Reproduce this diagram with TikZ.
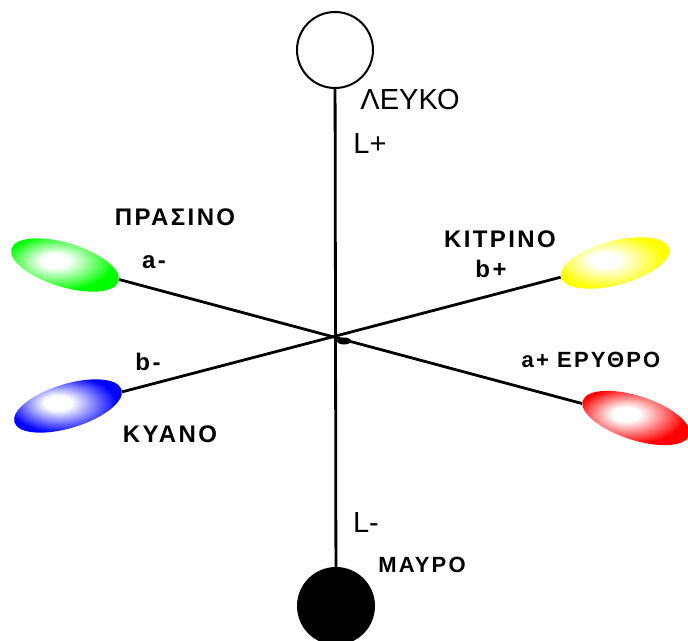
\documentclass[tikz,border=0pt]{standalone}
\usepackage{fontspec}
\setmainfont{Liberation Sans}
\newfontfamily\labelfont[LetterSpace=10]{Liberation Sans}
\usetikzlibrary{shapes.geometric}
\pgfdeclareradialshading{glowgreen}{\pgfpoint{-5bp}{3bp}}{color(0bp)=(white); color(6bp)=(white); color(24bp)=(green); color(50bp)=(green)}
\pgfdeclareradialshading{glowyellow}{\pgfpoint{-5bp}{3bp}}{color(0bp)=(white); color(6bp)=(white); color(24bp)=(yellow); color(50bp)=(yellow)}
\pgfdeclareradialshading{glowblue}{\pgfpoint{-5bp}{3bp}}{color(0bp)=(white); color(6bp)=(white); color(24bp)=(blue); color(50bp)=(blue)}
\pgfdeclareradialshading{glowred}{\pgfpoint{-5bp}{3bp}}{color(0bp)=(white); color(6bp)=(white); color(24bp)=(red); color(50bp)=(red)}
\def\bigtext{\fontsize{29}{32}\selectfont}
\def\boldtext{\labelfont\bfseries\fontsize{24}{26}\selectfont}
\def\smalltext{\labelfont\bfseries\fontsize{22}{24}\selectfont}

\begin{document}
\begin{tikzpicture}[x=1pt, y=1pt,
		axis/.style={line width=2.8pt},
		pole/.style={circle, draw, line width=2pt, minimum size=76pt, inner sep=0pt},
		blob/.style={ellipse, shade, minimum width=112pt, minimum height=44pt, inner sep=0pt}]
			%%%%% START %%%%%
			\useasboundingbox (0, 0) rectangle (688, 640);
			
			\node[pole, fill=white] (white) at (335, 590) {};
			\node[pole, fill=black] (black) at (336, 34) {};
			
			\node[blob, rotate=-17, shading=glowgreen] (green) at (65, 375) {};
			\node[blob, rotate=-18, shading=glowred] (red) at (636, 222) {};
			\node[blob, rotate=15, shading=glowyellow] (yellow) at (615, 377) {};
			\node[blob, rotate=17, shading=glowblue] (blue) at (68, 234) {};
			
			\draw[axis] (white) -- (black);
			\draw[axis] (green) -- (red);
			\draw[axis] (blue) -- (yellow);
			\fill (344, 299) ellipse (7 and 3.5);
			
			\node (leuko) at (410, 540) {\bigtext ΛΕΥΚΟ};
			\node (lplus) at (370, 496) {\bigtext L+};
			\node (prasino) at (175, 423) {\boldtext ΠΡΑΣΙΝΟ};
			\node (aminus) at (154, 378) {\boldtext a-};
			\node (kitrino) at (500, 401) {\boldtext ΚΙΤΡΙΝΟ};
			\node (bplus) at (491, 371) {\boldtext b+};
			\node (bminus) at (148, 278) {\boldtext b-};
			\node (kyano) at (170, 206) {\boldtext ΚΥΑΝΟ};
			\node (erythro) at (591, 280) {\smalltext a+ ΕΡΥΘΡΟ};
			\node (lminus) at (366, 117) {\bigtext L-};
			\node (mayro) at (422, 75) {\smalltext ΜΑΥΡΟ};
			
			%%%%% END %%%%%
		\end{tikzpicture}
\end{document}
